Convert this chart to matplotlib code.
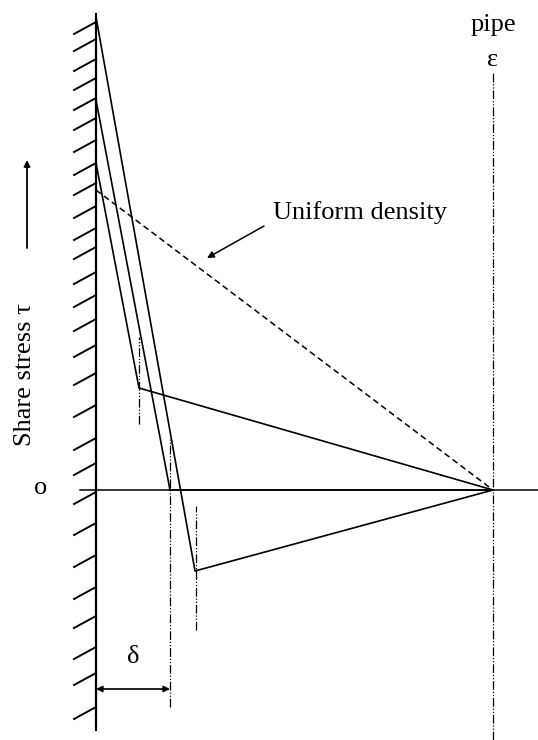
"""
Shear stress profile sketch: wall on the left, pipe centre line on the right.
Coordinates: x = distance from the wall, tau = shear stress (0 on the axis).
"""

import matplotlib
matplotlib.use("Agg")
import matplotlib.pyplot as plt

# --- data ----------------------------------------------------------------
pipe_x = 397                      # pipe centre line

# three stratified profiles: wall -> kink -> pipe centre
wall_tau = [473, 390, 327]
kink_x = [99, 74, 43]
kink_tau = [-81, 0, 102]

# uniform density profile
uniform_x = [0, pipe_x]
uniform_tau = [300, 0]

# short dash-dot guides at the kinks (x, tau_top, tau_bottom)
guide_x = [43, 74, 100]
guide_top = [153, 53, -16]
guide_bottom = [66, -217, -140]

delta_x = 74                      # thickness δ
delta_tau = -199

# wall hatching (tau where each hatch meets the wall)
hatch_tau = [468, 451, 431, 412, 392, 372, 350, 327, 307, 284, 262, 243,
             218, 195, 171, 145, 117, 85, 52, 27, -2, -33, -65, -97,
             -126, -157, -183, -217]

SERIF = ["Liberation Serif", "DejaVu Serif"]
FS = 19


def main() -> None:
    fig = plt.figure(figsize=(5.38, 7.40), dpi=100)
    ax = fig.add_axes([0, 0, 1, 1])
    ax.set_xlim(-96, 442)
    ax.set_ylim(-250, 490)
    ax.axis("off")

    # wall + hatching
    ax.plot([0, 0], [-240, 476], color="black", lw=1.6)
    for t in hatch_tau:
        ax.plot([-22, 0], [t - 12, t], color="black", lw=1.4)

    # horizontal axis and pipe centre line
    ax.plot([-16, 442], [0, 0], color="black", lw=1.1)
    ax.plot([pipe_x, pipe_x], [-250, 418], color="black", lw=0.9,
            linestyle=(0, (7, 1.5, 1, 1.5, 1, 1.5)))

    # profiles
    for t0, kx, kt in zip(wall_tau, kink_x, kink_tau):
        ax.plot([0, kx, pipe_x], [t0, kt, 0], color="black", lw=1.2)
    ax.plot(uniform_x, uniform_tau, color="black", lw=1.1,
            linestyle=(0, (4, 2.5)))

    # guides
    for gx, gt, gb in zip(guide_x, guide_top, guide_bottom):
        ax.plot([gx, gx], [gb, gt], color="black", lw=0.9,
                linestyle=(0, (7, 1.5, 1, 1.5, 1, 1.5)))

    # delta dimension
    ax.annotate("", xy=(0, delta_tau), xytext=(delta_x, delta_tau),
                arrowprops=dict(arrowstyle="<|-|>", color="black", lw=1.2,
                                mutation_scale=9, shrinkA=0, shrinkB=0))
    ax.text(37, -167, "δ", family=SERIF, fontsize=FS, ha="center", va="center")

    # labels
    ax.annotate("", xy=(111, 232), xytext=(168, 264),
                arrowprops=dict(arrowstyle="-|>", color="black", lw=1.1,
                                mutation_scale=10, shrinkA=0, shrinkB=0))
    ax.text(177, 277, "Uniform density", family=SERIF, fontsize=FS,
            ha="left", va="center")
    ax.text(pipe_x, 465, "pipe", family=SERIF, fontsize=FS,
            ha="center", va="center")
    ax.text(pipe_x, 430, "ε", family=SERIF, fontsize=FS,
            ha="center", va="center")
    ax.text(-55, 2, "o", family=SERIF, fontsize=FS, ha="center", va="center")

    ax.text(-71, 115, "Share stress τ", family=SERIF, fontsize=FS,
            rotation=90, ha="center", va="center")
    ax.annotate("", xy=(-69, 330), xytext=(-69, 242),
                arrowprops=dict(arrowstyle="-|>", color="black", lw=1.3,
                                mutation_scale=9, shrinkA=0, shrinkB=0))

    fig.savefig("out.png", dpi=100, facecolor="white")


if __name__ == "__main__":
    main()
